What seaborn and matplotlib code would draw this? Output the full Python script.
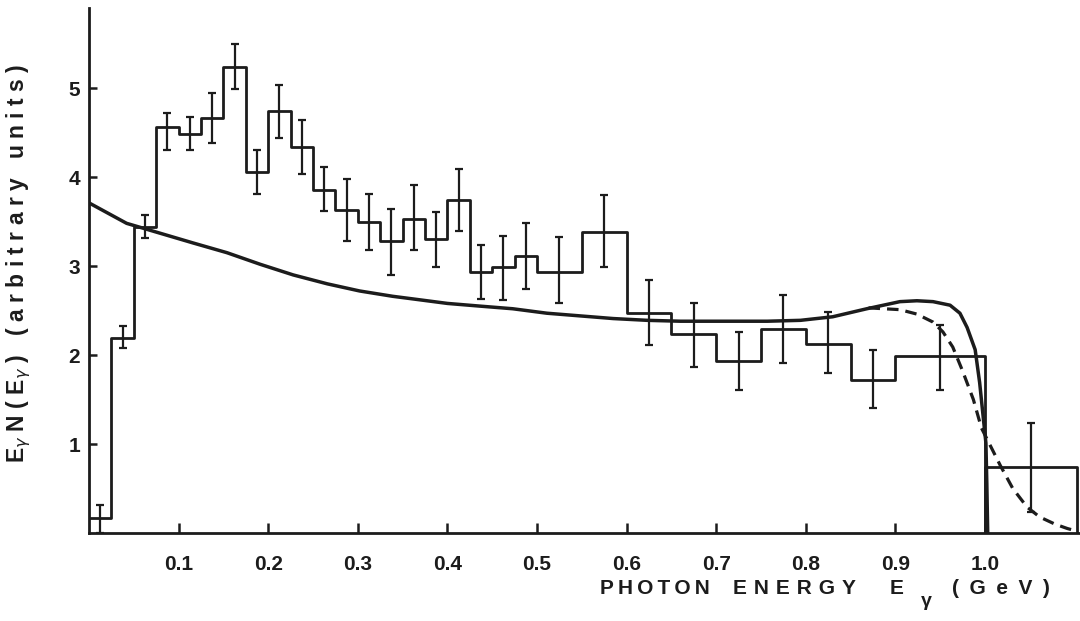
import numpy as np
import pandas as pd
import seaborn as sns
import matplotlib
matplotlib.use("Agg")
import matplotlib.pyplot as plt

# ---------------- data ----------------
bin_edges = [0.0, 0.025, 0.05, 0.075, 0.1, 0.125, 0.15, 0.175, 0.2, 0.225,
             0.25, 0.275, 0.3, 0.325, 0.35, 0.375, 0.4, 0.425, 0.45, 0.475,
             0.5, 0.55, 0.6, 0.65, 0.7, 0.75, 0.8, 0.85, 0.9, 1.0, 1.103]
hist_values = [0.17, 2.19, 3.44, 4.56, 4.48, 4.66, 5.24, 4.06, 4.74, 4.34,
               3.85, 3.63, 3.49, 3.28, 3.53, 3.30, 3.74, 2.93, 2.99, 3.11,
               2.93, 3.38, 2.47, 2.24, 1.93, 2.29, 2.12, 1.72, 1.99, 0.74]
err_low = [0.0, 2.08, 3.31, 4.30, 4.30, 4.38, 4.99, 3.81, 4.44, 4.04,
           3.62, 3.28, 3.18, 2.90, 3.18, 2.99, 3.39, 2.63, 2.62, 2.74,
           2.58, 2.99, 2.11, 1.87, 1.61, 1.91, 1.80, 1.40, 1.61, 0.24]
err_high = [0.31, 2.33, 3.57, 4.72, 4.67, 4.94, 5.49, 4.30, 5.03, 4.64,
            4.11, 3.98, 3.81, 3.64, 3.91, 3.61, 4.09, 3.24, 3.34, 3.48,
            3.33, 3.80, 2.84, 2.58, 2.26, 2.67, 2.48, 2.06, 2.34, 1.24]

solid_energy = [0.0, 0.042, 0.079, 0.116, 0.154, 0.191, 0.228, 0.266, 0.302,
                0.339, 0.362, 0.400, 0.436, 0.473, 0.511, 0.548, 0.585, 0.623,
                0.660, 0.700, 0.757, 0.794, 0.830, 0.868, 0.905, 0.924, 0.942,
                0.961, 0.972, 0.980, 0.989, 0.994, 0.998, 1.001, 1.002, 1.003]
solid_value = [3.71, 3.48, 3.37, 3.26, 3.15, 3.02, 2.90, 2.80, 2.72,
               2.66, 2.63, 2.58, 2.55, 2.52, 2.47, 2.44, 2.41, 2.39,
               2.38, 2.38, 2.38, 2.39, 2.43, 2.52, 2.60, 2.61, 2.60,
               2.56, 2.47, 2.31, 2.06, 1.69, 1.30, 1.01, 0.56, 0.0]

dashed_energy = [0.870, 0.905, 0.924, 0.942, 0.953, 0.964, 0.975, 0.987, 0.996,
                 1.006, 1.017, 1.031, 1.047, 1.061, 1.078, 1.092, 1.103]
dashed_value = [2.53, 2.51, 2.46, 2.37, 2.26, 2.09, 1.82, 1.50, 1.18,
                0.98, 0.76, 0.50, 0.29, 0.18, 0.10, 0.05, 0.02]

xtick_values = [0.1, 0.2, 0.3, 0.4, 0.5, 0.6, 0.7, 0.8, 0.9, 1.0]
xtick_labels = ["0.1", "0.2", "0.3", "0.4", "0.5", "0.6", "0.7", "0.8", "0.9", "1.0"]
ytick_values = [1, 2, 3, 4, 5]
ytick_labels = ["1", "2", "3", "4", "5"]

xlabel_words = ["P\u2009H\u2009O\u2009T\u2009O\u2009N",
                "E\u2004N\u2004E\u2004R\u2004G\u2004Y",
                "E",
                "(\u2002G\u2002e\u2002V\u2002)"]
xlabel_sub = "\u03b3"
ylabel_text = "E$_\\gamma$ N ( E$_\\gamma$ )   ( a r b i t r a r y   u n i t s )"

# ---------------- styling ----------------
sns.set_theme(style="white")
plt.rcParams["font.family"] = ["Liberation Sans", "DejaVu Sans"]
INK = "#1c1c1c"

W, H = 1080, 621
fig = plt.figure(figsize=(W / 100, H / 100), dpi=100)
fig.patch.set_facecolor("white")
ax = fig.add_axes([89 / W, 1 - 533 / H, 991 / W, 525 / H])
ax.set_facecolor("white")

edges = np.array(bin_edges)
vals = np.array(hist_values)
lo = np.array(err_low)
hi = np.array(err_high)
centers = (edges[:-1] + edges[1:]) / 2

# main histogram outline (bins up to 1.0), dropping to zero at 1.0
n_main = len(vals) - 1
main_x = np.r_[edges[:n_main], edges[n_main], edges[n_main]]
main_y = np.r_[vals[:n_main], vals[n_main - 1], 0.0]
main_df = pd.DataFrame({"E": main_x, "N": main_y})
sns.lineplot(data=main_df, x="E", y="N", sort=False, estimator=None,
             drawstyle="steps-post", color=INK, lw=2.0, legend=False, ax=ax)

# last (wide) bin drawn as a box
last_df = pd.DataFrame({"E": [edges[-2], edges[-2], edges[-1], edges[-1]],
                        "N": [0.0, vals[-1], vals[-1], 0.0]})
sns.lineplot(data=last_df, x="E", y="N", sort=False, estimator=None,
             color=INK, lw=2.0, legend=False, ax=ax)

# error bars
ax.errorbar(centers, vals, yerr=[vals - lo, hi - vals], fmt="none",
            ecolor=INK, elinewidth=1.6, capsize=3, capthick=1.6, zorder=3)

# smooth curves
sns.lineplot(x=solid_energy, y=solid_value, sort=False, estimator=None,
             color=INK, lw=2.5, legend=False, ax=ax)
sns.lineplot(x=dashed_energy, y=dashed_value, sort=False, estimator=None,
             color=INK, lw=2.3, legend=False, ax=ax, linestyle=(0, (3.6, 2.2)))

# axes
ax.set_xlim(0, 1.106)
ax.set_ylim(0, 5.9)
sns.despine(ax=ax)
for s in ("left", "bottom"):
    ax.spines[s].set_linewidth(2.0)
    ax.spines[s].set_color(INK)

ax.set_xticks(xtick_values)
ax.set_xticklabels(xtick_labels)
ax.set_yticks(ytick_values)
ax.set_yticklabels(ytick_labels)
ax.tick_params(axis="x", direction="in", length=7, width=1.8, pad=16,
               labelsize=15, colors=INK, bottom=True)
ax.tick_params(axis="y", direction="in", length=6, width=1.8, pad=6.5,
               labelsize=15, colors=INK, left=True)
for lab in ax.get_xticklabels() + ax.get_yticklabels():
    lab.set_fontweight("bold")
ax.set_xlabel("")
ax.set_ylabel("")

# axis titles
word_x = [600, 733, 890, 952]
for wx, word in zip(word_x, xlabel_words):
    fig.text(wx / W, 1 - 594 / H, word, ha="left", va="baseline",
             fontsize=15, fontweight="bold", color=INK)
fig.text(921 / W, 1 - 606 / H, xlabel_sub, ha="left", va="baseline",
         fontsize=14, fontweight="bold", color=INK)
fig.text(19 / W, 1 - 263 / H, ylabel_text,
         ha="center", va="center", rotation=90, fontsize=16.5,
         fontweight="bold", color=INK)

fig.savefig("out.png", dpi=100, facecolor="white")
